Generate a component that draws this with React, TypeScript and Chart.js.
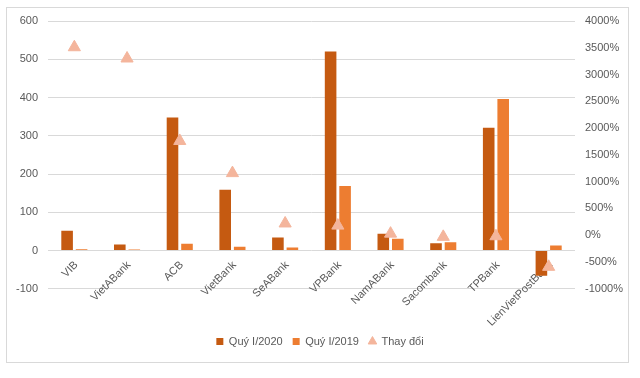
import React, { useEffect, useRef } from "react";
import { Chart, registerables } from "chart.js";

Chart.register(...registerables);

const categories = ["VIB", "VietABank", "ACB", "VietBank", "SeABank", "VPBank", "NamABank", "Sacombank", "TPBank", "LienVietPostBank"];
const q1_2020 = [52, 16, 348, 159, 34, 520, 44, 19, 321, -66];
const q1_2019 = [3.5, 3, 18, 10, 8, 169, 31, 22, 396, 13];
const change = [3510, 3300, 1760, 1160, 220, 180, 30, -30, -19, -590];
const seriesNames = ["Quý I/2020", "Quý I/2019", "Thay đổi"];
const leftTicks = { min: -100, max: 600, step: 100 };
const rightTicks = { min: -1000, max: 4000, step: 500 };

const FONT = "'Liberation Sans', Arial, sans-serif";
const TXT = "#595959";

const borderPlugin = {
  id: "outerBorder",
  beforeDraw(chart: any) {
    const ctx = chart.ctx;
    ctx.save();
    ctx.fillStyle = "#ffffff";
    ctx.fillRect(0, 0, chart.width, chart.height);
    ctx.strokeStyle = "#D9D9D9";
    ctx.lineWidth = 1;
    ctx.strokeRect(6.5, 7.5, 622, 355);
    ctx.restore();
  },
};

export default function App() {
  const ref = useRef<HTMLCanvasElement>(null);
  useEffect(() => {
    if (!ref.current) return;
    const chart = new Chart(ref.current, {
      type: "bar",
      data: {
        labels: categories,
        datasets: [
          {
            type: "line",
            label: seriesNames[2],
            data: change,
            yAxisID: "y1",
            showLine: false,
            pointStyle: "triangle",
            pointRadius: 7,
            pointBackgroundColor: "#F4B59C",
            pointBorderColor: "#F4B59C",
            backgroundColor: "#F4B59C",
            borderColor: "#F4B59C",
            order: 0,
          } as any,
          {
            label: seriesNames[0],
            data: q1_2020,
            backgroundColor: "#C55A11",
            borderWidth: 0,
            yAxisID: "y",
            pointStyle: "rect",
            categoryPercentage: 0.55,
            barPercentage: 0.8,
            order: 1,
          },
          {
            label: seriesNames[1],
            data: q1_2019,
            backgroundColor: "#ED7D31",
            borderWidth: 0,
            yAxisID: "y",
            pointStyle: "rect",
            categoryPercentage: 0.55,
            barPercentage: 0.8,
            order: 1,
          },
        ],
      },
      options: {
        animation: false,
        responsive: false,
        layout: { padding: { top: 21, left: 0, right: 0, bottom: 21 } },
        scales: {
          x: {
            position: { y: 0 } as any,
            z: 1,
            grid: { display: false, drawTicks: false },
            border: { display: false },
            ticks: {
              autoSkip: false,
              maxRotation: 45,
              minRotation: 45,
              color: TXT,
              font: { family: FONT, size: 11 },
              padding: 8,
              labelOffset: 2,
            },
          },
          y: {
            position: "left",
            min: leftTicks.min,
            max: leftTicks.max,
            ticks: { stepSize: leftTicks.step, color: TXT, font: { family: FONT, size: 11 }, padding: 10 },
            grid: { color: "#D9D9D9", drawTicks: false },
            border: { display: false },
            afterFit(scale: any) {
              scale.width = 48;
            },
          },
          y1: {
            position: "right",
            min: rightTicks.min,
            max: rightTicks.max,
            ticks: {
              stepSize: rightTicks.step,
              color: TXT,
              font: { family: FONT, size: 11 },
              padding: 10,
              callback: (v: any) => v + "%",
            },
            grid: { display: false, drawTicks: false },
            border: { display: false },
            afterFit(scale: any) {
              scale.width = 65;
            },
          },
        },
        plugins: {
          tooltip: { enabled: false },
          legend: {
            position: "bottom",
            title: { display: true, text: " ", padding: { top: 36, bottom: 0 }, font: { size: 1 } },
            labels: {
              usePointStyle: true,
              boxWidth: 7,
              boxHeight: 7,
              color: TXT,
              font: { family: FONT, size: 11 },
              padding: 10,
              sort: (a: any, b: any) => seriesNames.indexOf(a.text) - seriesNames.indexOf(b.text),
            },
          },
        },
      },
      plugins: [borderPlugin],
    });
    return () => chart.destroy();
  }, []);
  return (
    <div style={{ position: "absolute", left: 0, top: 0, width: 640, height: 378 }}>
      <canvas ref={ref} width={640} height={378} />
    </div>
  );
}
